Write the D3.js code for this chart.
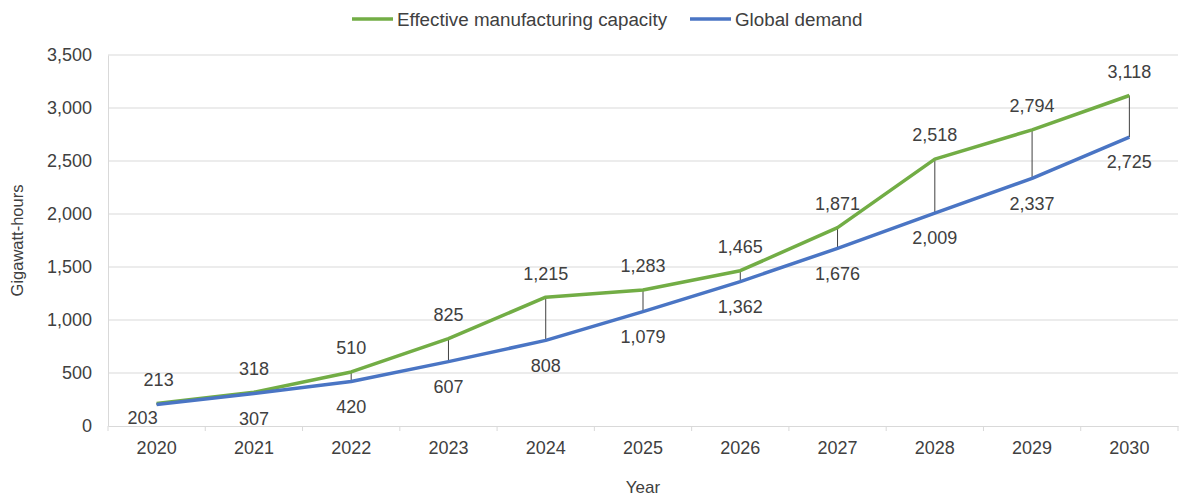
<!DOCTYPE html>
<html>
<head>
<meta charset="utf-8">
<script src="https://cdn.jsdelivr.net/npm/d3@7"></script>
<style>
  body { margin: 0; background: #fff; }
  text { font-family: "Liberation Sans", Arial, sans-serif; fill: #404040; }
</style>
</head>
<body>
<svg id="chart" width="1182" height="498"></svg>
<script>
const years = ["2020", "2021", "2022", "2023", "2024", "2025", "2026", "2027", "2028", "2029", "2030"];
const capacity = [213, 318, 510, 825, 1215, 1283, 1465, 1871, 2518, 2794, 3118];
const demand = [203, 307, 420, 607, 808, 1079, 1362, 1676, 2009, 2337, 2725];
const yTicks = [0, 500, 1000, 1500, 2000, 2500, 3000, 3500];

const LEFT = 108;
const RIGHT = 1178;
const TOP = 55;
const BOTTOM = 426;
const GREEN = "#72ad45";
const BLUE = "#4a75c4";

const svg = d3.select("#chart");

const xBand = d3.scaleBand().domain(years).range([LEFT, RIGHT]);
const x = (d) => xBand(d) + xBand.bandwidth() / 2;
const y = d3.scaleLinear().domain([0, 3500]).range([BOTTOM, TOP]);

// gridlines
svg
  .append("g")
  .selectAll("line")
  .data(yTicks.filter((d) => d > 0))
  .enter()
  .append("line")
  .attr("x1", LEFT)
  .attr("x2", RIGHT)
  .attr("y1", (d) => y(d))
  .attr("y2", (d) => y(d))
  .attr("stroke", "#d9d9d9")
  .attr("stroke-width", 1);

// y axis
const yAxis = svg
  .append("g")
  .attr("transform", `translate(${LEFT}, 0)`)
  .call(d3.axisLeft(y).tickValues(yTicks).tickSize(0).tickPadding(16).tickFormat(d3.format(",")));
yAxis.select(".domain").attr("stroke", "#d9d9d9");
yAxis.selectAll("text").style("font-size", "18px").attr("fill", "#404040");

// x axis
const xAxis = svg
  .append("g")
  .attr("transform", `translate(0, ${BOTTOM})`)
  .call(d3.axisBottom(xBand).tickSize(0).tickPadding(15));
xAxis.select(".domain").attr("stroke", "#d9d9d9");
xAxis.selectAll("text").style("font-size", "18px").attr("fill", "#404040");

// boundary ticks
svg
  .append("g")
  .selectAll("line")
  .data(years.concat(["end"]))
  .enter()
  .append("line")
  .attr("x1", (d, i) => LEFT + i * xBand.step())
  .attr("x2", (d, i) => LEFT + i * xBand.step())
  .attr("y1", BOTTOM)
  .attr("y2", BOTTOM + 5)
  .attr("stroke", "#d9d9d9");

// drop lines
svg
  .append("g")
  .selectAll("line")
  .data(years)
  .enter()
  .append("line")
  .attr("x1", (d) => x(d))
  .attr("x2", (d) => x(d))
  .attr("y1", (d, i) => y(capacity[i]))
  .attr("y2", (d, i) => y(demand[i]))
  .attr("stroke", "#404040")
  .attr("stroke-width", 1);

const line = d3
  .line()
  .x((d, i) => x(years[i]))
  .y((d) => y(d));

[
  [capacity, GREEN],
  [demand, BLUE],
].forEach(([vals, color]) =>
  svg
    .append("path")
    .datum(vals)
    .attr("fill", "none")
    .attr("stroke", color)
    .attr("stroke-width", 3.5)
    .attr("stroke-linejoin", "round")
    .attr("d", line),
);

// data labels
svg
  .append("g")
  .selectAll("text")
  .data(capacity)
  .enter()
  .append("text")
  .attr("x", (d, i) => x(years[i]) + (i === 0 ? 2 : 0))
  .attr("y", (d) => y(d) - 24)
  .attr("dy", "0.35em")
  .attr("text-anchor", "middle")
  .style("font-size", "18px")
  .text((d) => d3.format(",")(d));

svg
  .append("g")
  .selectAll("text")
  .data(demand)
  .enter()
  .append("text")
  .attr("x", (d, i) => x(years[i]) - (i === 0 ? 14 : 0))
  .attr("y", (d, i) => y(d) + (i === 0 ? 13 : 25))
  .attr("dy", "0.35em")
  .attr("text-anchor", "middle")
  .style("font-size", "18px")
  .text((d) => d3.format(",")(d));

// axis titles
svg
  .append("text")
  .attr("transform", `translate(23, ${(TOP + BOTTOM) / 2}) rotate(-90)`)
  .attr("text-anchor", "middle")
  .style("font-size", "16.5px")
  .text("Gigawatt-hours");

svg
  .append("text")
  .attr("x", 643)
  .attr("y", 493)
  .attr("text-anchor", "middle")
  .style("font-size", "17px")
  .text("Year");

// legend
const legend = [
  ["Effective manufacturing capacity", GREEN, 352],
  ["Global demand", BLUE, 690],
];
legend.forEach(([label, color, lx]) => {
  svg
    .append("line")
    .attr("x1", lx)
    .attr("x2", lx + 41)
    .attr("y1", 19)
    .attr("y2", 19)
    .attr("stroke", color)
    .attr("stroke-width", 3.5);
  svg
    .append("text")
    .attr("x", lx + 45)
    .attr("y", 19)
    .attr("dy", "0.35em")
    .style("font-size", "18.8px")
    .text(label);
});
</script>
</body>
</html>
